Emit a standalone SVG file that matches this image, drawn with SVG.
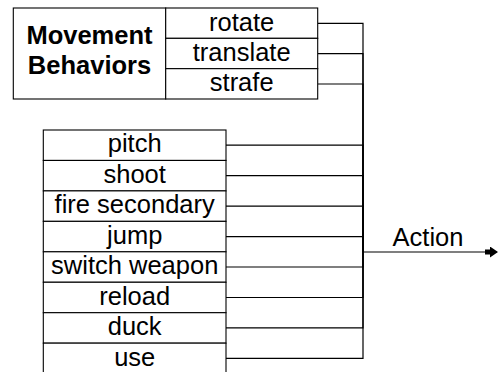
<svg xmlns="http://www.w3.org/2000/svg" width="498" height="372" viewBox="0 0 498 372">
<defs>
<style>
.box{fill:#fff;stroke:#000;stroke-width:1.1}
.t{font-family:"Liberation Sans",Arial,sans-serif;font-size:25.5px;text-anchor:middle;fill:#000}
.b{font-weight:bold}
.c{fill:none;stroke:#000;stroke-width:1.2}
</style>
<marker id="ah" viewBox="0 0 13 11" refX="12" refY="5.5" markerWidth="13" markerHeight="11" markerUnits="userSpaceOnUse" orient="auto">
<path d="M0,3 L5,3 L5,0 L13,5.5 L5,11 L5,8 L0,8 Z" fill="#000"/>
</marker>
</defs>
<rect width="498" height="372" fill="#fff"/>
<g id="connectors">
<polyline class="c" points="318,23.3 363,23.3 363,252"/>
<polyline class="c" points="318,53.6 363,53.6 363,252"/>
<polyline class="c" points="318,84 363,84 363,252"/>
<polyline class="c" points="226,145.2 363,145.2 363,252"/>
<polyline class="c" points="226,175.7 363,175.7 363,252"/>
<polyline class="c" points="226,206.1 363,206.1 363,252"/>
<polyline class="c" points="226,236.6 363,236.6 363,252"/>
<polyline class="c" points="226,267 363,267 363,252"/>
<polyline class="c" points="226,297.5 363,297.5 363,252"/>
<polyline class="c" points="226,327.9 363,327.9 363,252"/>
<polyline class="c" points="226,358.4 363,358.4 363,252"/>
<line class="c" x1="363" y1="252" x2="497" y2="252" stroke-width="1.6" marker-end="url(#ah)"/>
<text class="t" x="428" y="245.7">Action</text>
</g>
<g id="movement-behaviors">
<rect class="box" x="13.3" y="8" width="152.4" height="91"/>
<text class="t b" x="89.5" y="43.5">Movement</text>
<text class="t b" x="89.5" y="74">Behaviors</text>
</g>
<g id="rotate">
<rect class="box" x="165.7" y="8" width="152" height="30.33"/>
<text class="t" x="241.7" y="30.7">rotate</text>
</g>
<g id="translate">
<rect class="box" x="165.7" y="38.33" width="152" height="30.33"/>
<text class="t" x="241.7" y="61">translate</text>
</g>
<g id="strafe">
<rect class="box" x="165.7" y="68.67" width="152" height="30.33"/>
<text class="t" x="241.7" y="91.3">strafe</text>
</g>
<g id="pitch">
<rect class="box" x="43.3" y="130" width="182.7" height="30.45"/>
<text class="t" x="134.7" y="152.3">pitch</text>
</g>
<g id="shoot">
<rect class="box" x="43.3" y="160.45" width="182.7" height="30.45"/>
<text class="t" x="134.7" y="182.8">shoot</text>
</g>
<g id="fire-secondary">
<rect class="box" x="43.3" y="190.9" width="182.7" height="30.45"/>
<text class="t" x="134.7" y="213.2">fire secondary</text>
</g>
<g id="jump">
<rect class="box" x="43.3" y="221.35" width="182.7" height="30.45"/>
<text class="t" x="134.7" y="243.7">jump</text>
</g>
<g id="switch-weapon">
<rect class="box" x="43.3" y="251.8" width="182.7" height="30.45"/>
<text class="t" x="134.7" y="274.1">switch weapon</text>
</g>
<g id="reload">
<rect class="box" x="43.3" y="282.25" width="182.7" height="30.45"/>
<text class="t" x="134.7" y="304.6">reload</text>
</g>
<g id="duck">
<rect class="box" x="43.3" y="312.7" width="182.7" height="30.45"/>
<text class="t" x="134.7" y="335">duck</text>
</g>
<g id="use">
<rect class="box" x="43.3" y="343.15" width="182.7" height="30.45"/>
<text class="t" x="134.7" y="365.5">use</text>
</g>
</svg>
